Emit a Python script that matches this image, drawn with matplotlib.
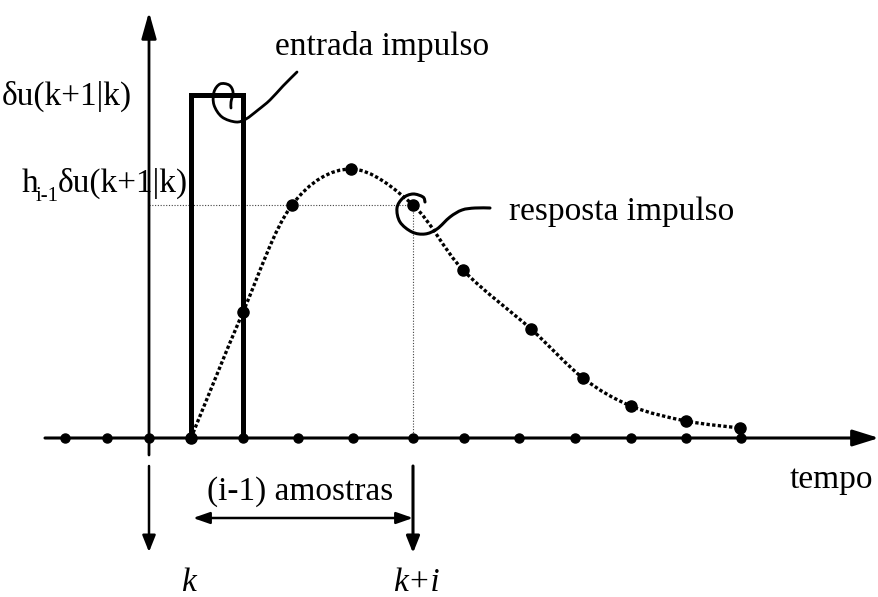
import numpy as np
import matplotlib
matplotlib.use("Agg")
import matplotlib.pyplot as plt
from matplotlib.path import Path
from matplotlib.patches import PathPatch, FancyArrowPatch

# sample instants on the time axis
sample_x = [65, 107, 149, 191, 243, 298, 353, 413, 464, 519, 575, 631, 686, 741]

# impulse input: starts at k+1, lasts one sample
pulse_x = [191, 243]
pulse_height = 343

# impulse response samples
resp_x = [191, 243, 292, 351, 413, 463, 531, 583, 631, 686, 740]
resp_y = [0, 126, 233, 269, 233, 168, 109, 60, 32, 17, 10]

k_x = 149
ki_x = 413
h_level = 233

# hand-drawn pointers (x, y) for the two labels
entrada_ptr = [(297, 366), (283, 352), (270, 338), (258, 328), (246, 319), (236, 316),
               (222, 321), (214, 333), (214, 346), (220, 354), (229, 353), (233, 346),
               (231, 336), (231, 330)]
resposta_ptr = [(490, 230), (475, 230), (462, 228), (450, 221), (437, 209), (425, 204),
                (412, 206), (400, 216), (397, 230), (403, 240), (413, 244), (423, 241),
                (425, 236)]

plt.rcParams['font.family'] = ['Liberation Serif', 'DejaVu Serif']


def smooth_path(pts):
    # Catmull-Rom through the points, handed to matplotlib as cubic Beziers
    p = np.asarray(pts, dtype=float)
    ext = np.vstack([p[0], p, p[-1]])
    verts = [p[0]]
    codes = [Path.MOVETO]
    for i in range(1, len(ext) - 2):
        c1 = ext[i] + (ext[i + 1] - ext[i - 1]) / 6.0
        c2 = ext[i + 1] - (ext[i + 2] - ext[i]) / 6.0
        verts += [c1, c2, ext[i + 1]]
        codes += [Path.CURVE4] * 3
    return Path(verts, codes)


def arrow(ax, p0, p1, lw, hl, hw):
    ax.add_patch(FancyArrowPatch(p0, p1, arrowstyle=f'-|>,head_length={hl},head_width={hw}',
                                 mutation_scale=10, lw=lw, color='black',
                                 shrinkA=0, shrinkB=0, zorder=3))


fig = plt.figure(figsize=(8.79, 5.97), dpi=100)
ax = fig.add_axes([0, 0, 1, 1])
ax.set_xlim(0, 879)
ax.set_ylim(-159, 438)
ax.axis('off')

# axes
arrow(ax, (45, 0), (879, 0), 2.2, 1.6, 0.5)
arrow(ax, (k_x, -17), (k_x, 426), 2.0, 1.6, 0.45)

# markers below the axis
arrow(ax, (k_x, -28), (k_x, -114), 1.8, 1.0, 0.4)
arrow(ax, (ki_x, -28), (ki_x, -115), 2.2, 1.0, 0.4)
ax.add_patch(FancyArrowPatch((pulse_x[0] + 2, -80), (ki_x, -80),
                             arrowstyle='<|-|>,head_length=1.0,head_width=0.35',
                             mutation_scale=10, lw=1.8, color='black',
                             shrinkA=0, shrinkB=0))

# guide lines for h_{i-1}
ax.plot([k_x, ki_x], [h_level, h_level], color='#444444', lw=0.8,
        linestyle=(0, (1, 1.5)), zorder=1)
ax.plot([ki_x, ki_x], [0, h_level], color='#444444', lw=0.8,
        linestyle=(0, (1, 1.5)), zorder=1)

# impulse input
ax.plot([pulse_x[0], pulse_x[0], pulse_x[1], pulse_x[1]],
        [0, pulse_height, pulse_height, 0], color='black', lw=3.6,
        solid_joinstyle='miter', zorder=4)

# impulse response
ax.add_patch(PathPatch(smooth_path(list(zip(resp_x, resp_y))), fill=False,
                       lw=2.4, linestyle=(0, (1.0, 0.7)), edgecolor='black', zorder=5))
ax.plot(resp_x, resp_y, 'o', color='black', ms=8, zorder=6)
ax.plot(sample_x, [0] * len(sample_x), 'o', color='black', ms=6.5, zorder=6)

# pointers
ax.add_patch(PathPatch(smooth_path(entrada_ptr), fill=False, lw=2.0,
                       edgecolor='black', capstyle='round', zorder=7))
ax.add_patch(PathPatch(smooth_path(resposta_ptr), fill=False, lw=2.2,
                       edgecolor='black', capstyle='round', zorder=7))

fs = 24
ax.text(2, 333, 'δu(k+1|k)', fontsize=fs, ha='left', va='baseline')
ax.text(22, 246, 'h', fontsize=fs, ha='left', va='baseline')
ax.text(36, 237, 'i-1', fontsize=15, ha='left', va='baseline')
ax.text(58, 246, 'δu(k+1|k)', fontsize=fs, ha='left', va='baseline')
ax.text(275, 383, 'entrada impulso', fontsize=fs, ha='left', va='baseline')
ax.text(509, 218, 'resposta impulso', fontsize=fs, ha='left', va='baseline')
ax.text(790, -50, 'tempo', fontsize=fs, ha='left', va='baseline')
ax.text(207, -62, '(i-1) amostras', fontsize=fs, ha='left', va='baseline')
ax.text(188, -153, 'k', fontsize=fs, style='italic', ha='center', va='baseline')
ax.text(416, -153, 'k+i', fontsize=fs, style='italic', ha='center', va='baseline')

fig.savefig('out.png', dpi=100)
